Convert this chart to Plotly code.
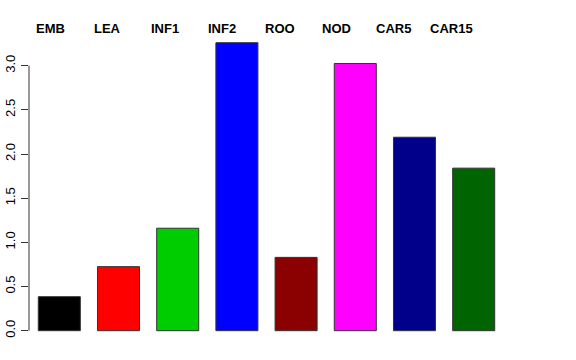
import plotly.graph_objects as go

categories = ["EMB", "LEA", "INF1", "INF2", "ROO", "NOD", "CAR5", "CAR15"]
values = [0.385, 0.725, 1.16, 3.26, 0.83, 3.025, 2.19, 1.84]
colors = ["#000000", "#FF0000", "#00CD00", "#0000FF", "#8B0000", "#FF00FF", "#00008B", "#006400"]
y_ticks = [0.0, 0.5, 1.0, 1.5, 2.0, 2.5, 3.0]
y_tick_labels = ["0.0", "0.5", "1.0", "1.5", "2.0", "2.5", "3.0"]

positions = list(range(1, len(categories) + 1))

fig = go.Figure()
fig.add_trace(go.Bar(
    x=positions,
    y=values,
    width=0.71,
    marker=dict(color=colors, line=dict(color="#333333", width=1)),
    hoverinfo="skip",
))

# labels across the top
for i, cat in enumerate(categories):
    fig.add_annotation(
        x=0.856 + 0.966 * i, y=1.023, xref="x", yref="paper",
        text="<b>%s</b>" % cat, showarrow=False,
        xanchor="center", yanchor="middle",
        font=dict(family="Liberation Sans, Arial, sans-serif", size=13, color="black"),
    )

# y axis line only between 0 and 3
fig.add_shape(type="line", xref="paper", yref="y", x0=0, x1=0, y0=0, y1=3,
              line=dict(color="#333333", width=1))

fig.update_layout(
    width=576, height=360,
    margin=dict(l=29, r=16, t=36, b=15, autoexpand=False),
    paper_bgcolor="white", plot_bgcolor="white",
    showlegend=False,
    font=dict(family="Liberation Sans, Arial, sans-serif", size=13, color="black"),
    xaxis=dict(range=[0.488, 9.458], showticklabels=False, showgrid=False,
               zeroline=False, showline=False, ticks="", automargin=False),
    yaxis=dict(range=[-0.162, 3.336], tickvals=y_ticks, ticktext=y_tick_labels,
               tickangle=-90, ticks="outside", ticklen=7, tickcolor="#333333",
               showgrid=False, zeroline=False, showline=False, automargin=False,
               ticklabelstandoff=1,
               tickfont=dict(size=13, color="black")),
)

fig.write_html("out.html", config={"displayModeBar": False},
               post_script="document.body.style.margin='0';")
